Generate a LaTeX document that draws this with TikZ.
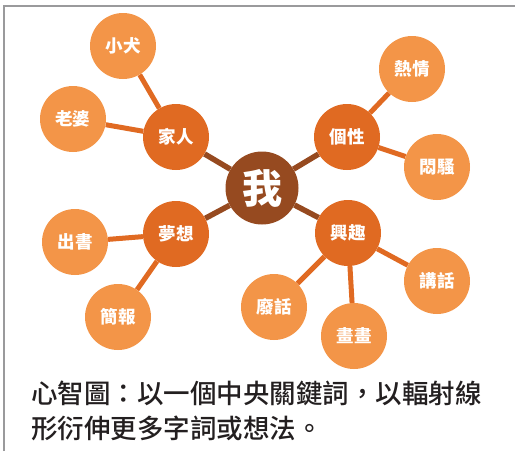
\documentclass[tikz,border=0pt]{standalone}
\usepackage{fontspec}
\newfontfamily\cjk{Noto Sans CJK TC}
\newfontfamily\cjkm{Noto Sans CJK TC Medium}
\usetikzlibrary{backgrounds}
\definecolor{outerc}{HTML}{F39548}
\definecolor{midc}{HTML}{E06A22}
\definecolor{corec}{HTML}{964A20}
\definecolor{framec}{HTML}{9A9A9C}
\definecolor{textc}{HTML}{231F20}
\tikzset{
  outer/.style={circle,fill=outerc,minimum size=66pt,inner sep=0pt,text=white,font=\cjk\bfseries\fontsize{17.5}{17.5}\selectfont},
  mid/.style={circle,fill=midc,minimum size=66pt,inner sep=0pt,text=white,font=\cjk\bfseries\fontsize{17.5}{17.5}\selectfont},
  core/.style={circle,fill=corec,minimum size=73pt,inner sep=0pt,text=white,font=\cjk\bfseries\fontsize{40}{40}\selectfont},
  corelink/.style={draw=corec,line width=5.5pt},
  midlink/.style={draw=midc,line width=5pt},
}
\begin{document}
\begin{tikzpicture}[x=1pt,y=-1pt]
\useasboundingbox (0,0) rectangle (515,451);
\draw[framec,line width=2.5pt] (4,451) -- (4,6) -- (515,6);
\node[core] (me) at (262,188) {我};
\node[mid] (jiaren) at (176,137) {家人};
\node[mid] (gexing) at (347,137) {個性};
\node[mid] (mengxiang) at (176,234) {夢想};
\node[mid] (xingqu) at (348,233) {興趣};
\node[outer] (xiaoquan) at (123,46) {小犬};
\node[outer] (laopo) at (73,119) {老婆};
\node[outer] (reqing) at (412,69) {熱情};
\node[outer] (mensao) at (437,167) {悶騷};
\node[outer] (chushu) at (75,242) {出書};
\node[outer] (jianbao) at (118,317) {簡報};
\node[outer] (feihua) at (274,307) {廢話};
\node[outer] (huahua) at (354,336) {畫畫};
\node[outer] (jianghua) at (437,281) {講話};
\begin{scope}[on background layer]
\draw[corelink] (me) -- (jiaren);
\draw[corelink] (me) -- (gexing);
\draw[corelink] (me) -- (mengxiang);
\draw[corelink] (me) -- (xingqu);
\draw[midlink] (jiaren) -- (xiaoquan);
\draw[midlink] (jiaren) -- (laopo);
\draw[midlink] (gexing) -- (reqing);
\draw[midlink] (gexing) -- (mensao);
\draw[midlink] (mengxiang) -- (chushu);
\draw[midlink] (mengxiang) -- (jianbao);
\draw[midlink] (xingqu) -- (feihua);
\draw[midlink] (xingqu) -- (huahua);
\draw[midlink] (xingqu) -- (jianghua);
\end{scope}
\node[anchor=west,text=textc,font=\cjkm\fontsize{26.5}{35}\selectfont,align=left,inner sep=0pt] (caption) at (31,411) {心智圖：以一個中央關鍵詞，以輻射線\\形衍伸更多字詞或想法。};
\end{tikzpicture}
\end{document}
